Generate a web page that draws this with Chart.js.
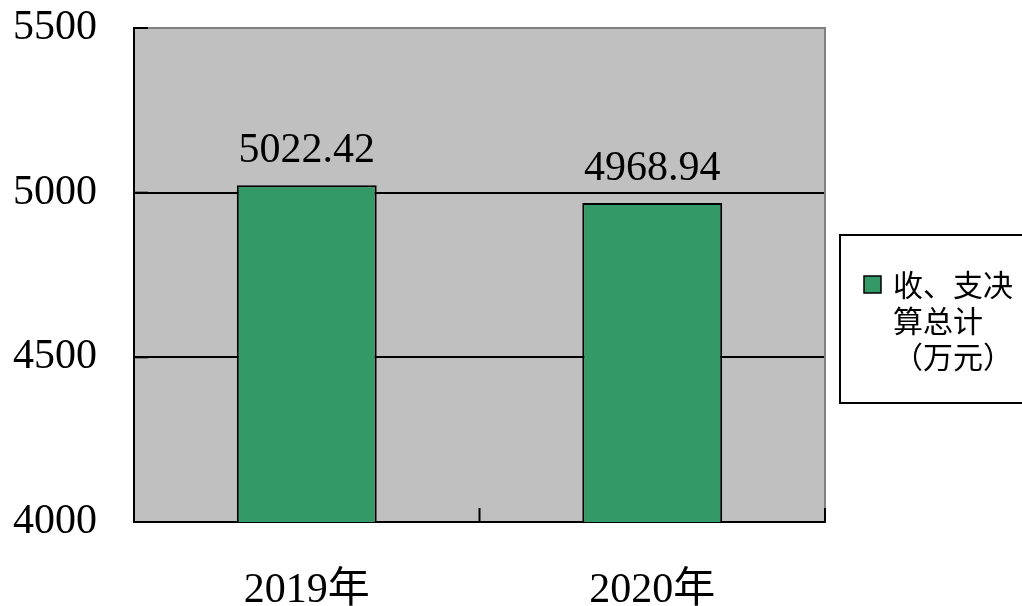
<!DOCTYPE html>
<html>
<head>
<meta charset="utf-8">
<script src="https://cdn.jsdelivr.net/npm/chart.js@4/dist/chart.umd.min.js"></script>
<style>
  html, body { margin: 0; padding: 0; background: #ffffff; }
  #wrap { width: 1022px; height: 606px; position: relative; }
</style>
</head>
<body>
<div id="wrap"><canvas id="c" width="1022" height="606"></canvas></div>
<script>
// ---- data ----
const categories = ['2019年', '2020年'];
const totals = [5022.42, 4968.94];
const seriesLabel = '收、支决算总计（万元）';
const legendLines = ['收、支决', '算总计', '（万元）'];
const yTicks = [4000, 4500, 5000, 5500];

const SERIF = '"Liberation Serif", "Noto Sans CJK SC", serif';
const CJK = '"Noto Sans CJK SC", sans-serif';
const GREEN = '#339966';
const PLOT_BG = '#C0C0C0';

const decorPlugin = {
  id: 'decor',
  beforeDraw(chart) {
    const a = chart.chartArea, ctx = chart.ctx;
    ctx.save();
    ctx.fillStyle = PLOT_BG;
    ctx.fillRect(a.left, a.top, a.right - a.left, a.bottom - a.top);
    ctx.restore();
  },
  afterDatasetsDraw(chart) {
    const ctx = chart.ctx, a = chart.chartArea;
    const meta = chart.getDatasetMeta(0);
    const data = chart.data.datasets[0].data;
    ctx.save();
    // gray top/right frame
    ctx.strokeStyle = '#808080';
    ctx.lineWidth = 2;
    ctx.beginPath();
    ctx.moveTo(a.left, a.top);
    ctx.lineTo(a.right, a.top);
    ctx.lineTo(a.right, a.bottom);
    ctx.stroke();
    // inward ticks on y axis
    ctx.strokeStyle = '#000';
    ctx.lineWidth = 2;
    const ys = chart.scales.y;
    yTicks.forEach(v => {
      const y = ys.getPixelForValue(v);
      ctx.beginPath();
      ctx.moveTo(a.left, y);
      ctx.lineTo(a.left + 14, y);
      ctx.stroke();
    });
    // inward ticks on x axis at category boundaries
    const n = categories.length;
    const cw = (a.right - a.left) / n;
    for (let i = 0; i <= n; i++) {
      const x = a.left + i * cw;
      ctx.beginPath();
      ctx.moveTo(x, a.bottom);
      ctx.lineTo(x, a.bottom - 14);
      ctx.stroke();
    }
    // value labels
    ctx.fillStyle = '#000';
    ctx.font = '42px ' + SERIF;
    ctx.textAlign = 'center';
    ctx.textBaseline = 'alphabetic';
    meta.data.forEach((bar, i) => {
      ctx.fillText(data[i].toFixed(2), bar.x, bar.y - 23);
    });
    ctx.restore();
  },
  afterDraw(chart) {
    const ctx = chart.ctx;
    ctx.save();
    // legend box
    ctx.strokeStyle = '#000';
    ctx.lineWidth = 2;
    ctx.strokeRect(840, 235, 200, 168);
    // swatch
    ctx.fillStyle = GREEN;
    ctx.fillRect(864, 276, 17, 17);
    ctx.lineWidth = 1.5;
    ctx.strokeRect(864, 276, 17, 17);
    // text
    ctx.fillStyle = '#000';
    ctx.font = '30px ' + CJK;
    ctx.textAlign = 'left';
    ctx.textBaseline = 'middle';
    legendLines.forEach((t, i) => {
      ctx.fillText(t, 893, 285 + i * 36);
    });
    ctx.restore();
  }
};

function zeroPad(scale) {
  scale.paddingTop = 0;
  scale.paddingBottom = 0;
  scale.paddingLeft = 0;
  scale.paddingRight = 0;
}

new Chart(document.getElementById('c'), {
  type: 'bar',
  data: {
    labels: categories,
    datasets: [{
      label: seriesLabel,
      data: totals,
      backgroundColor: GREEN,
      borderColor: '#000',
      borderWidth: 2,
      categoryPercentage: 1.0,
      barPercentage: 0.405
    }]
  },
  options: {
    responsive: false,
    animation: false,
    devicePixelRatio: 1,
    layout: { padding: { top: 28, right: 197, left: 0, bottom: 0 } },
    plugins: {
      legend: { display: false },
      tooltip: { enabled: false },
      title: { display: false }
    },
    scales: {
      x: {
        grid: { display: false, drawTicks: false },
        border: { color: '#000', width: 2 },
        ticks: {
          color: '#000',
          font: { family: SERIF, size: 42 },
          padding: 44,
          maxRotation: 0
        },
        afterFit(scale) { scale.height = 84; zeroPad(scale); }
      },
      y: {
        min: 4000,
        max: 5500,
        afterBuildTicks(scale) { scale.ticks = yTicks.map(v => ({ value: v })); },
        grid: {
          drawTicks: false,
          lineWidth: 2,
          color: ctx => (ctx.tick && ctx.tick.value === 5500) ? '#808080' : '#000'
        },
        border: { color: '#000', width: 2 },
        ticks: {
          color: '#000',
          font: { family: SERIF, size: 42 },
          padding: 37,
          callback: v => String(v)
        },
        afterFit(scale) { scale.width = 134; zeroPad(scale); }
      }
    }
  },
  plugins: [decorPlugin]
});
</script>
</body>
</html>
